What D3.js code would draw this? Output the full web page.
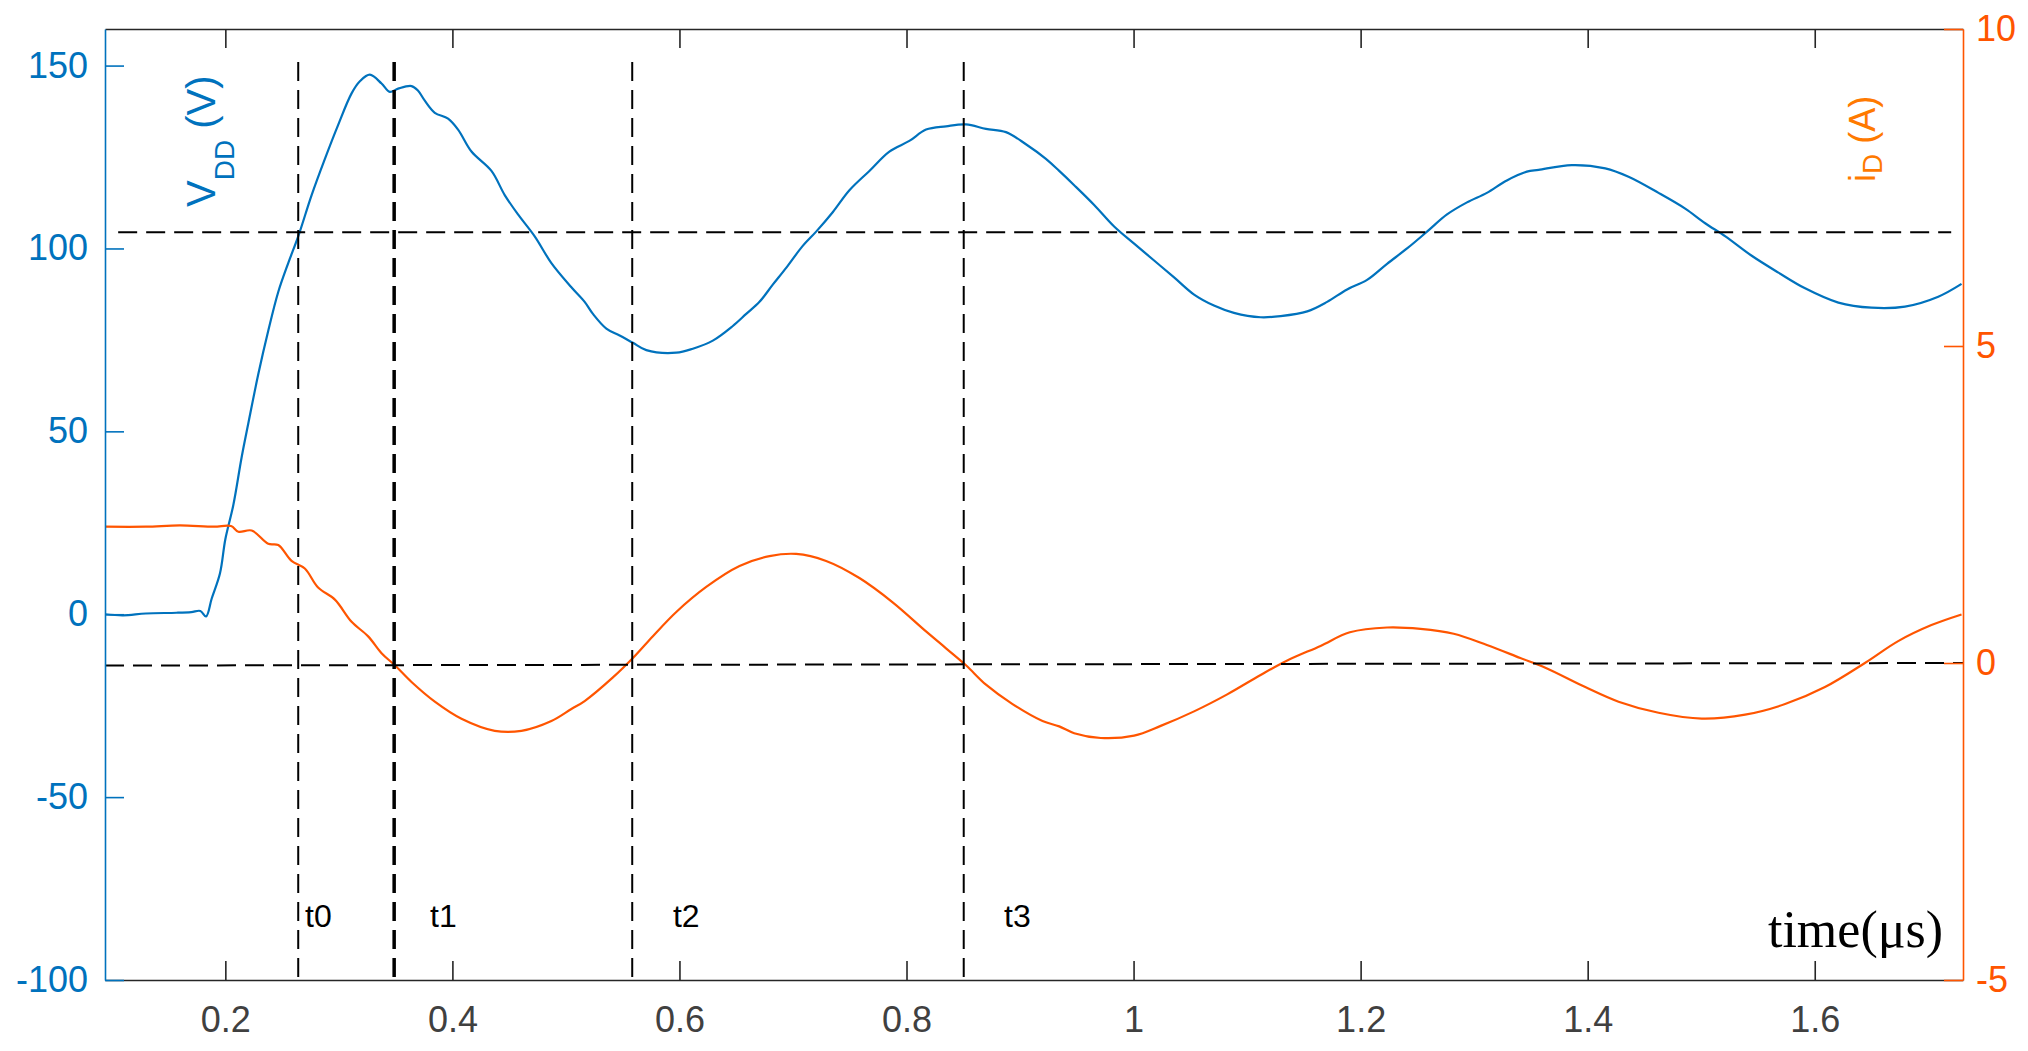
<!DOCTYPE html>
<html>
<head>
<meta charset="utf-8">
<script src="https://cdn.jsdelivr.net/npm/d3@7"></script>
<style>
body { margin: 0; background: #fff; }
</style>
</head>
<body>
<div id="chart"></div>
<script>
// V_DD trace (time in us, volts)
var vTime = [0.094, 0.11, 0.13, 0.157, 0.17, 0.178, 0.183, 0.188, 0.1953, 0.2, 0.207, 0.2144, 0.2203, 0.229, 0.2378,
    0.2466, 0.2554, 0.2642, 0.276, 0.2877, 0.2994, 0.3112, 0.3185, 0.3273, 0.3376, 0.3449, 0.3522, 0.364, 0.3698,
    0.3757, 0.3845, 0.3962, 0.405, 0.4168, 0.4344, 0.4461, 0.4578, 0.4725, 0.4872, 0.5048, 0.5165, 0.5238, 0.5356,
    0.5473, 0.559, 0.5708, 0.5972, 0.6118, 0.6294, 0.647, 0.6588, 0.6705, 0.6822, 0.694, 0.7086, 0.7204, 0.735,
    0.7497, 0.7673, 0.7849, 0.8025, 0.8172, 0.8348, 0.8524, 0.87, 0.8876, 0.9052, 0.9228, 0.9345, 0.9477, 0.9653,
    0.9829, 1.0005, 1.0181, 1.0357, 1.0533, 1.0708, 1.0884, 1.1119, 1.1295, 1.153, 1.1705, 1.1881, 1.2057, 1.2233,
    1.2409, 1.2585, 1.2761, 1.2937, 1.3112, 1.3288, 1.3464, 1.3568, 1.3861, 1.4155, 1.436, 1.4624, 1.4859, 1.5035,
    1.5213, 1.5445, 1.568, 1.5915, 1.6208, 1.65, 1.6795, 1.7088, 1.7293];
var vValues = [0.0, -0.3, 0.2, 0.4, 0.6, 0.9, -0.6, 4.3, 11.2, 20.5, 29.8, 43, 52.3, 65.6, 77.5,
    88.1, 96, 103.3, 114.6, 124.5, 133.8, 142.4, 145.7, 147.5, 145.1, 142.8, 143.7, 144.4, 143.1,
    140.4, 137.1, 135.5, 132.5, 126.5, 121.2, 114.6, 109.3, 103.3, 96, 89.4, 85.4, 82.1, 78.1,
    76.2, 74.2, 72.2, 71.5, 72.6, 74.8, 78.8, 82.1, 85.4, 90.1, 94.7, 100.7, 104.6, 109.9,
    115.9, 121.2, 126.5, 129.4, 132.5, 133.4, 133.9, 132.7, 131.8, 128.5, 124.5, 121.2, 117.3, 111.9,
    106, 101.3, 96.7, 92.1, 87.4, 84.4, 82.4, 81.2, 81.5, 82.8, 85.4, 88.8, 91.4, 95.8,
    100, 104.6, 109.3, 112.6, 115.2, 118.6, 121, 121.5, 122.8, 121.9, 119.6, 115.2, 110.9, 106.9,
    103.3, 98, 93.4, 89.1, 85.2, 83.8, 84.1, 86.8, 90.3];

// i_D trace (time in us, amps)
var iTime = [0.094, 0.13, 0.16, 0.19, 0.205, 0.2115, 0.2232, 0.2378, 0.2466, 0.2583, 0.27, 0.2817, 0.2965, 0.3112,
    0.3258, 0.3376, 0.3493, 0.364, 0.3845, 0.408, 0.4373, 0.4608, 0.4872, 0.5048, 0.5165, 0.5414, 0.559, 0.5766,
    0.5972, 0.6236, 0.6529, 0.6793, 0.7028, 0.7292, 0.7585, 0.7878, 0.8172, 0.8348, 0.8524, 0.87, 0.8934, 0.9198,
    0.9345, 0.9477, 0.9711, 1.0005, 1.0239, 1.0533, 1.0825, 1.1119, 1.1354, 1.1647, 1.1905, 1.2233, 1.2527, 1.282,
    1.3112, 1.3407, 1.3627, 1.3979, 1.4272, 1.4624, 1.5005, 1.5387, 1.5739, 1.609, 1.6442, 1.6735, 1.7028, 1.7293];
var iValues = [2.15, 2.15, 2.17, 2.15, 2.16, 2.07, 2.09, 1.88, 1.86, 1.61, 1.49, 1.19, 1.0, 0.65,
    0.42, 0.155, -0.036, -0.30, -0.61, -0.88, -1.07, -1.07, -0.915, -0.725, -0.60, -0.227, 0.079, 0.423,
    0.805, 1.20, 1.53, 1.685, 1.72, 1.61, 1.34, 0.957, 0.498, 0.232, -0.036, -0.342, -0.648, -0.915,
    -1.0, -1.107, -1.183, -1.145, -0.992, -0.763, -0.495, -0.189, 0.039, 0.27, 0.484, 0.56, 0.538, 0.461,
    0.284, 0.079, -0.074, -0.38, -0.61, -0.785, -0.877, -0.815, -0.648, -0.38, 0.0, 0.345, 0.598, 0.766];

// marker lines and their labels
var markerNames = ["t0", "t1", "t2", "t3"];
var markerTimes = [0.2642, 0.3487, 0.5584, 0.8504];
var labelTimes = [0.2702, 0.3803, 0.5943, 0.8859];
var labelLevel = -85.5;
var markerTop = 151;
var vLevel = 104.4;
var vLevelSpan = [0.1056, 1.7202];
var iLevel = [-0.04, 0.0];

// tick labels
var xTicks = [0.2, 0.4, 0.6, 0.8, 1, 1.2, 1.4, 1.6];
var vTicks = [-100, -50, 0, 50, 100, 150];
var iTicks = [-5, 0, 5, 10];

var blue = "#0072bd";
var orange = "#ff5500";
var sans = "'Liberation Sans', Arial, Helvetica, sans-serif";

var plotLeft = 105, plotRight = 1963, plotTop = 29, plotBottom = 980;

//Make an SVG Container
var svgContainer = d3.select("#chart").append("svg")
    .attr("width", 2028)
    .attr("height", 1051);

var x = d3.scaleLinear().domain([0.094, 1.7306]).range([plotLeft, plotRight]);
var yV = d3.scaleLinear().domain([-100, 160]).range([plotBottom, plotTop]);
var yI = d3.scaleLinear().domain([-5, 10]).range([plotBottom, plotTop]);

//Draw the traces
var vLine = d3.line()
    .curve(d3.curveCatmullRom.alpha(0.5))
    .x(function(d) { return x(d[0]); })
    .y(function(d) { return yV(d[1]); });

var iLine = d3.line()
    .curve(d3.curveCatmullRom.alpha(0.5))
    .x(function(d) { return x(d[0]); })
    .y(function(d) { return yI(d[1]); });

svgContainer.append("path")
    .datum(d3.zip(vTime, vValues))
    .attr("fill", "none")
    .attr("stroke", blue)
    .attr("stroke-width", 2.2)
    .attr("stroke-linejoin", "round")
    .attr("d", vLine);

svgContainer.append("path")
    .datum(d3.zip(iTime, iValues))
    .attr("fill", "none")
    .attr("stroke", orange)
    .attr("stroke-width", 2.2)
    .attr("stroke-linejoin", "round")
    .attr("d", iLine);

//Draw the dashed guides
svgContainer.append("line")
    .attr("x1", x(vLevelSpan[0]))
    .attr("x2", x(vLevelSpan[1]))
    .attr("y1", yV(vLevel))
    .attr("y2", yV(vLevel))
    .attr("stroke", "#000")
    .attr("stroke-width", 2)
    .attr("stroke-dasharray", "19,9");

svgContainer.append("line")
    .attr("x1", x.range()[0])
    .attr("x2", x.range()[1])
    .attr("y1", yI(iLevel[0]))
    .attr("y2", yI(iLevel[1]))
    .attr("stroke", "#000")
    .attr("stroke-width", 2)
    .attr("stroke-dasharray", "19,9");

svgContainer.selectAll("line.marker")
    .data(markerTimes)
    .enter().append("line")
    .attr("class", "marker")
    .attr("x1", function(d) { return x(d); })
    .attr("x2", function(d) { return x(d); })
    .attr("y1", yV(markerTop))
    .attr("y2", yV(-100))
    .attr("stroke", "#000")
    .attr("stroke-width", function(d, i) { return i === 1 ? 3.5 : 2; })
    .attr("stroke-dasharray", "19,9");

svgContainer.selectAll("text.marker")
    .data(markerNames)
    .enter().append("text")
    .attr("class", "marker")
    .attr("x", function(d, i) { return x(labelTimes[i]); })
    .attr("y", yV(labelLevel))
    .attr("font-family", sans)
    .attr("font-size", 32)
    .attr("fill", "#000")
    .text(function(d) { return d; });

//Axes
function styleAxis(g, lineColor, textColor) {
    g.attr("font-family", sans).attr("font-size", 36);
    g.selectAll("path.domain").attr("stroke", lineColor).attr("stroke-width", 1.6);
    g.selectAll(".tick line").attr("stroke", lineColor).attr("stroke-width", 1.6);
    g.selectAll(".tick text").attr("fill", textColor);
}

var gBottom = svgContainer.append("g")
    .attr("transform", "translate(0," + plotBottom + ")")
    .call(d3.axisBottom(x).tickValues(xTicks).tickSizeInner(-19).tickSizeOuter(0).tickPadding(26)
        .tickFormat(function(d) { return String(d); }));
styleAxis(gBottom, "#262626", "#404040");

var gTop = svgContainer.append("g")
    .attr("transform", "translate(0," + plotTop + ")")
    .call(d3.axisTop(x).tickValues(xTicks).tickSizeInner(-19).tickSizeOuter(0).tickFormat(""));
styleAxis(gTop, "#262626", "#404040");

var gLeft = svgContainer.append("g")
    .attr("transform", "translate(" + plotLeft + ",0)")
    .call(d3.axisLeft(yV).tickValues(vTicks).tickSizeInner(-19).tickSizeOuter(0).tickPadding(17)
        .tickFormat(function(d) { return String(d); }));
styleAxis(gLeft, blue, blue);

var gRight = svgContainer.append("g")
    .attr("transform", "translate(" + plotRight + ",0)")
    .call(d3.axisRight(yI).tickValues(iTicks).tickSizeInner(-19).tickSizeOuter(0).tickPadding(13)
        .tickFormat(function(d) { return String(d); }));
styleAxis(gRight, orange, orange);

//Axis labels
var vLabel = svgContainer.append("text")
    .attr("transform", "translate(215,207) rotate(-90)")
    .attr("font-family", sans)
    .attr("fill", blue);
vLabel.append("tspan").attr("font-size", 40).text("V");
vLabel.append("tspan").attr("font-size", 28).attr("dy", 19).text("DD");
vLabel.append("tspan").attr("font-size", 40).attr("dy", -19).text(" (V)");

var iLabel = svgContainer.append("text")
    .attr("transform", "translate(1875,182) rotate(-90)")
    .attr("font-family", sans)
    .attr("fill", "#ff7a00");
iLabel.append("tspan").attr("font-size", 36).text("i");
iLabel.append("tspan").attr("font-size", 28).attr("dy", 7).text("D");
iLabel.append("tspan").attr("font-size", 36).attr("dy", -7).text(" (A)");

svgContainer.append("text")
    .attr("x", x(1.7131))
    .attr("y", yV(-91))
    .attr("text-anchor", "end")
    .attr("font-family", "'Liberation Serif', 'Times New Roman', serif")
    .attr("font-size", 52)
    .attr("fill", "#000")
    .text("time(\u03bcs)");
</script>
</body>
</html>
